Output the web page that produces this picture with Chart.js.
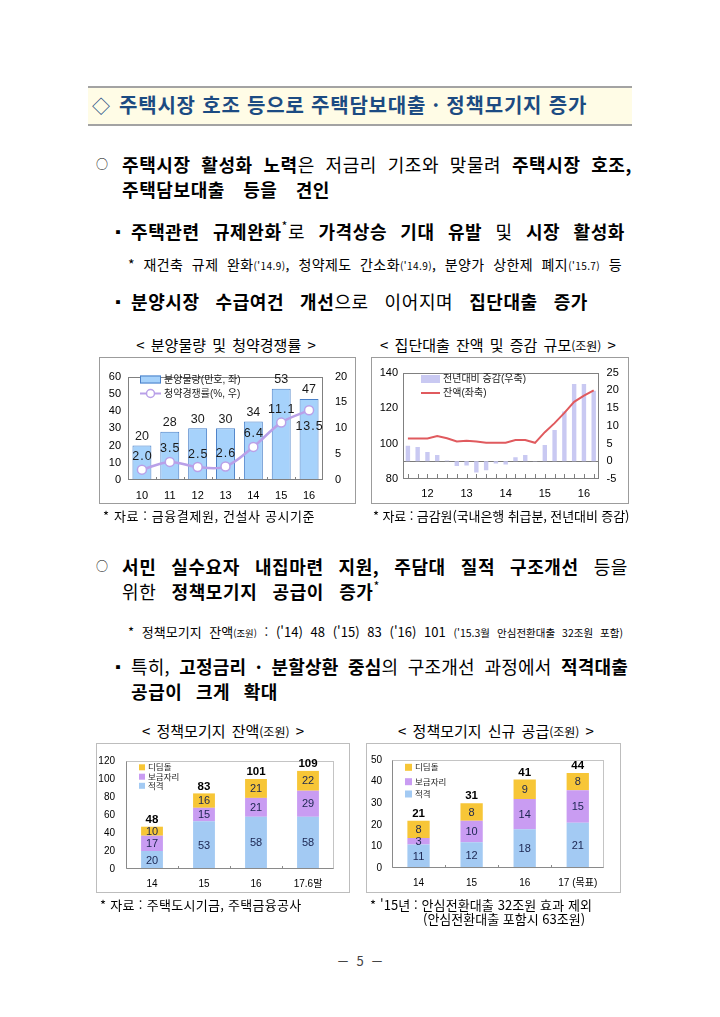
<!DOCTYPE html>
<html lang="ko">
<head>
<meta charset="utf-8">
<title>주택시장 호조 등으로 주택담보대출 · 정책모기지 증가</title>
<script src="https://cdn.jsdelivr.net/npm/chart.js@4.4.1/dist/chart.umd.min.js"></script>
<style>
  html, body { margin: 0; padding: 0; background: #fff; }
  body { width: 720px; height: 1017px; position: relative; overflow: hidden;
         font-family: 'Noto Sans CJK KR', 'Noto Sans', sans-serif; color: #000; }
  .abs { position: absolute; line-height: 1; }
  .jl { text-align: justify; text-align-last: justify; }
  .ls { letter-spacing: 0.6px; }
  .nw { white-space: nowrap; }
  b { font-weight: 700; }
  sup { font-size: 0.7em; vertical-align: 0.6em; line-height: 0; }
  .small { font-size: 0.72em; }
  .dot { font-size: 12px; }
  .box { position: absolute; outline: 1px solid #9c9c9c; }
  .box canvas { display: block; }
  .ttl { position: absolute; line-height: 1; font-size: 15px; word-spacing: 2px;
         white-space: nowrap; transform: translateX(-50%); }
  .ttl span { font-size: 12px; }
  .src { position: absolute; line-height: 1; font-size: 13px; white-space: nowrap; }
  .head { position: absolute; left: 88px; top: 86px; width: 544px; height: 36px;
          background: #fffce6; border-top: 2px solid #a3a3a3; border-bottom: 2px solid #a3a3a3; }
</style>
</head>
<body>

<div class="head"></div>
<div class="abs" style="left:92px; top:96px; font-size:18px; color:#1c4b82;">◇</div>
<div class="abs nw" style="left:119px; top:95px; font-size:20px; letter-spacing:0.8px; font-weight:700; color:#1c4b82;">주택시장 호조 등으로 주택담보대출 · 정책모기지 증가</div>

<div class="abs dot" style="left:96px; top:158px;">○</div>
<div class="abs jl ls" style="left:122px; top:155px; width:510px; font-size:18px;"><b>주택시장 활성화 노력</b>은 저금리 기조와 맞물려 <b>주택시장 호조,</b></div>
<div class="abs jl ls" style="left:122px; top:180px; width:208px; font-size:18px;"><b>주택담보대출 등을 견인</b></div>

<div class="abs" style="left:111px; top:224px; font-size:14px;">▪</div>
<div class="abs jl ls" style="left:131px; top:222px; width:494px; font-size:18px;"><b>주택관련 규제완화</b><sup>*</sup>로 <b>가격상승 기대 유발</b> 및 <b>시장 활성화</b></div>
<div class="abs jl" style="left:128px; top:257px; width:494px; font-size:14px; letter-spacing:0.4px;">* 재건축 규제 완화<span class="small">('14.9)</span>, 청약제도 간소화<span class="small">('14.9)</span>, 분양가 상한제 폐지<span class="small">('15.7)</span> 등</div>

<div class="abs" style="left:111px; top:294px; font-size:14px;">▪</div>
<div class="abs jl ls" style="left:131px; top:292px; width:457px; font-size:18px;"><b>분양시장 수급여건 개선</b>으로 이어지며 <b>집단대출 증가</b></div>

<div class="ttl" style="left:226px; top:337px;">&lt; 분양물량 및 청약경쟁률 &gt;</div>
<div class="ttl" style="left:498px; top:337px;">&lt; 집단대출 잔액 및 증감 규모<span>(조원)</span> &gt;</div>

<div class="box" style="left:100px; top:358px; width:255px; height:145px;"><canvas id="saleChart"></canvas></div>
<div class="box" style="left:372px; top:358px; width:256px; height:145px;"><canvas id="groupChart"></canvas></div>

<div class="src" style="left:103px; top:509px; letter-spacing:0.6px;">* 자료 : 금융결제원, 건설사 공시기준</div>
<div class="src" style="left:373px; top:509px; letter-spacing:-0.1px;">* 자료 : 금감원(국내은행 취급분, 전년대비 증감)</div>

<div class="abs dot" style="left:96px; top:560px;">○</div>
<div class="abs jl ls" style="left:122px; top:557px; width:506px; font-size:18px;"><b>서민 실수요자 내집마련 지원, 주담대 질적 구조개선</b> 등을</div>
<div class="abs jl ls" style="left:122px; top:582px; width:258px; font-size:18px;">위한 <b>정책모기지 공급이 증가</b><sup>*</sup></div>
<div class="abs jl" style="left:128px; top:625px; width:495px; font-size:13px;">* 정책모기지 잔액<span class="small">(조원)</span> : ('14) 48 ('15) 83 ('16) 101 <span style="font-size:10.5px;">('15.3월 안심전환대출 32조원 포함)</span></div>

<div class="abs" style="left:111px; top:659px; font-size:14px;">▪</div>
<div class="abs jl" style="left:131px; top:657px; width:497px; font-size:18px; letter-spacing:0.2px;">특히, <b>고정금리 · 분할상환 중심</b>의 구조개선 과정에서 <b>적격대출</b></div>
<div class="abs jl ls" style="left:131px; top:682px; width:147px; font-size:18px;"><b>공급이 크게 확대</b></div>

<div class="ttl" style="left:223px; top:723px;">&lt; 정책모기지 잔액<span>(조원)</span> &gt;</div>
<div class="ttl" style="left:496px; top:723px;">&lt; 정책모기지 신규 공급<span>(조원)</span> &gt;</div>

<div class="box" style="left:97px; top:744px; width:252px; height:148px; outline-color:#bdbdbd;"><canvas id="stockChart"></canvas></div>
<div class="box" style="left:367px; top:744px; width:253px; height:148px; outline-color:#bdbdbd;"><canvas id="newChart"></canvas></div>

<div class="src" style="left:100px; top:898px; letter-spacing:0.3px;">* 자료 : 주택도시기금, 주택금융공사</div>
<div class="src" style="left:370px; top:898px; letter-spacing:0.1px;">* '15년 : 안심전환대출 32조원 효과 제외</div>
<div class="src" style="left:423px; top:912px;">(안심전환대출 포함시 63조원)</div>

<div class="abs nw" style="left:360px; top:954px; font-size:13px; word-spacing:4px; color:#444; transform:translateX(-50%);">－ 5 －</div>

<script>
// 분양물량 및 청약경쟁률
const saleYears = ['10', '11', '12', '13', '14', '15', '16'];
const saleSupply = [20, 28, 30, 30, 34, 53, 47];                 // 만호, 좌축
const saleCompetition = [2.0, 3.5, 2.5, 2.6, 6.4, 11.1, 13.5];   // %, 우축

// 집단대출 잔액 및 증감 규모 (분기, 조원)
const groupQuarters = ['', '', '12', '', '', '', '13', '', '', '', '14', '', '', '', '15', '', '', '', '16', ''];
const groupChange = [4.4, 4.0, 2.6, 1.8, 0.2, -1.3, -1.2, -3.2, -2.5, -0.6, -0.9, 1.1, 1.8, 0.1, 4.6, 8.8, 14.0, 21.8, 21.8, 19.9];
const groupBalance = [102.8, 102.8, 102.8, 104.2, 103.0, 101.2, 101.6, 101.2, 100.5, 100.5, 100.4, 102.0, 102.0, 100.4, 106.4, 111.5, 117.3, 123.5, 127.0, 130.0];

// 정책모기지 잔액 (조원)
const stockYears = ['14', '15', '16', '17.6말'];
const stockEligible = [20, 53, 58, 58];
const stockBogeum = [17, 15, 21, 29];
const stockDidim = [10, 16, 21, 22];
const stockTotal = [48, 83, 101, 109];

// 정책모기지 신규 공급 (조원)
const newYears = ['14', '15', '16', '17 (목표)'];
const newEligible = [11, 12, 18, 21];
const newBogeum = [3, 10, 14, 15];
const newDidim = [8, 8, 9, 8];
const newTotal = [21, 31, 41, 44];

const FONT = "'Liberation Sans', 'Noto Sans CJK KR', sans-serif";
const BLUE = '#a6d2fb', LAVENDER = '#b9a0e8', RED = '#e05a5e', PALE = '#c9c9f2';
const ELIG = '#a3caf3', BOGEUM = '#c99cf2', DIDIM = '#f7c637';

Chart.defaults.font.family = FONT;
Chart.defaults.color = '#000';
Chart.defaults.animation = false;
Chart.defaults.events = [];
Chart.defaults.plugins.legend.display = false;
Chart.defaults.plugins.tooltip.enabled = false;

const fixW = w => s => { s.width = w; };
const fixH = h => s => { s.height = h; };
const noGrid = { display: false, drawTicks: false };

// 플롯 영역 테두리 + 축선
function framePlugin(frameColor, axisColor) {
    return {
        id: 'frame',
        afterDatasetsDraw(chart) {
            const { ctx, chartArea: a } = chart;
            const l = Math.round(a.left) + 0.5, r = Math.round(a.right) - 0.5;
            const t = Math.round(a.top) + 0.5, b = Math.round(a.bottom) - 0.5;
            ctx.save();
            ctx.lineWidth = 1;
            ctx.strokeStyle = frameColor;
            ctx.strokeRect(l, t, r - l, b - t);
            ctx.strokeStyle = axisColor;
            ctx.beginPath();
            ctx.moveTo(l, t); ctx.lineTo(l, b); ctx.lineTo(r, b);
            ctx.stroke();
            ctx.restore();
        }
    };
}

// 아래축 안쪽 작은 눈금
function innerTicks(at, len, color) {
    return {
        id: 'innerTicks',
        afterDatasetsDraw(chart) {
            const xs = chart.scales.x, ctx = chart.ctx, b = Math.round(chart.chartArea.bottom);
            ctx.save();
            ctx.strokeStyle = color;
            ctx.lineWidth = 1;
            ctx.beginPath();
            for (let i = 0; i < chart.data.labels.length; i++) {
                let x = xs.getPixelForValue(i);
                if (at === 'between') {
                    if (i === 0) continue;
                    x = (x + xs.getPixelForValue(i - 1)) / 2;
                }
                x = Math.round(x) + 0.5;
                ctx.moveTo(x, b);
                ctx.lineTo(x, b - len);
            }
            ctx.stroke();
            ctx.restore();
        }
    };
}

// 차트 안쪽 범례
function legendPlugin(items, fontSize) {
    return {
        id: 'boxLegend',
        afterDraw(chart) {
            const ctx = chart.ctx;
            ctx.save();
            ctx.font = fontSize + 'px ' + FONT;
            ctx.textBaseline = 'middle';
            ctx.fillStyle = '#222';
            items.forEach(it => {
                if (it.kind === 'box') {
                    ctx.fillStyle = it.fill;
                    ctx.fillRect(it.x, it.y - it.h / 2, it.w, it.h);
                    if (it.stroke) {
                        ctx.strokeStyle = it.stroke;
                        ctx.lineWidth = 1;
                        ctx.strokeRect(it.x + 0.5, it.y - it.h / 2 + 0.5, it.w - 1, it.h - 1);
                    }
                } else {
                    ctx.strokeStyle = it.stroke;
                    ctx.lineWidth = it.lw || 2;
                    ctx.beginPath();
                    ctx.moveTo(it.x, it.y); ctx.lineTo(it.x + it.w, it.y);
                    ctx.stroke();
                    if (it.point) {
                        ctx.fillStyle = '#fff';
                        ctx.lineWidth = 1.5;
                        ctx.beginPath();
                        ctx.arc(it.x + it.w / 2, it.y, 4, 0, Math.PI * 2);
                        ctx.fill(); ctx.stroke();
                    }
                }
                ctx.fillStyle = '#222';
                ctx.fillText(it.text, it.tx, it.y + 0.5);
            });
            ctx.restore();
        }
    };
}

// 누적막대 값 + 합계
function stackLabels(totals) {
    return {
        id: 'stackLabels',
        afterDatasetsDraw(chart) {
            const ctx = chart.ctx;
            ctx.save();
            ctx.textAlign = 'center';
            ctx.textBaseline = 'middle';
            ctx.font = '11px ' + FONT;
            ctx.fillStyle = '#1b2550';
            chart.data.datasets.forEach((ds, di) => {
                chart.getDatasetMeta(di).data.forEach((el, i) => {
                    const p = el.getProps(['x', 'y', 'base'], true);
                    ctx.fillText(String(ds.data[i]), p.x, (p.y + p.base) / 2 + 0.5);
                });
            });
            const top = chart.getDatasetMeta(chart.data.datasets.length - 1).data;
            ctx.font = 'bold 11.5px ' + FONT;
            ctx.fillStyle = '#000';
            top.forEach((el, i) => {
                const p = el.getProps(['x', 'y'], true);
                ctx.fillText(String(totals[i]), p.x, p.y - 7);
            });
            ctx.restore();
        }
    };
}

const saleLabels = {
    id: 'saleLabels',
    afterDatasetsDraw(chart) {
        const ctx = chart.ctx;
        const bars = chart.getDatasetMeta(1).data, pts = chart.getDatasetMeta(0).data;
        ctx.save();
        ctx.textAlign = 'center';
        ctx.textBaseline = 'middle';
        ctx.fillStyle = '#1a1a1a';
        ctx.font = '12.5px ' + FONT;
        bars.forEach((b, i) => ctx.fillText(String(saleSupply[i]), b.x, b.y - 9));
        ctx.font = '12.5px ' + FONT;
        ctx.letterSpacing = '1px';
        pts.forEach((p, i) => {
            const dy = i === pts.length - 1 ? 16 : -13;
            ctx.fillText(saleCompetition[i].toFixed(1), p.x + 0.5, p.y + dy);
        });
        ctx.restore();
    }
};

// 분양물량 및 청약경쟁률
new Chart(document.getElementById('saleChart'), {
    type: 'bar',
    data: {
        labels: saleYears,
        datasets: [{
            type: 'line',
            label: '청약경쟁률(%, 우)',
            data: saleCompetition,
            yAxisID: 'y1',
            order: 0,
            borderColor: LAVENDER,
            borderWidth: 2.5,
            tension: 0.35,
            pointRadius: 4.5,
            pointBackgroundColor: '#fff',
            pointBorderColor: LAVENDER,
            pointBorderWidth: 1.5
        }, {
            label: '분양물량(만호, 좌)',
            data: saleSupply,
            yAxisID: 'y',
            order: 1,
            backgroundColor: BLUE,
            borderColor: '#4a80c8',
            borderWidth: 1,
            barPercentage: 0.68,
            categoryPercentage: 1
        }]
    },
    options: {
        responsive: true,
        maintainAspectRatio: false,
        layout: { padding: { top: 8.5 } },
        scales: {
            x: { grid: noGrid, border: { display: false }, ticks: { padding: 9, font: { size: 11 } }, afterFit: fixH(23) },
            y: { min: 0, max: 60, grid: noGrid, border: { display: false }, ticks: { stepSize: 10, padding: 7, font: { size: 11 } }, afterFit: fixW(28) },
            y1: { position: 'right', min: 0, max: 20, grid: noGrid, border: { display: false }, ticks: { stepSize: 5, padding: 12, font: { size: 11 } }, afterFit: fixW(32) }
        }
    },
    plugins: [
        framePlugin('#808080', '#808080'),
        innerTicks('between', 3, '#808080'),
        saleLabels,
        legendPlugin([
            { kind: 'box', x: 40, y: 21.5, w: 21, h: 8, fill: BLUE, stroke: '#4a80c8', text: '분양물량(만호, 좌)', tx: 64 },
            { kind: 'line', x: 40, y: 35.5, w: 21, stroke: LAVENDER, lw: 2, point: true, text: '청약경쟁률(%, 우)', tx: 64 }
        ], 10)
    ]
});

// 0 기준선 (우축)
const zeroLine = {
    id: 'zeroLine',
    beforeDatasetsDraw(chart) {
        const { ctx, chartArea: a } = chart;
        const y = Math.round(chart.scales.y1.getPixelForValue(0)) + 0.5;
        ctx.save();
        ctx.strokeStyle = '#7a7a7a';
        ctx.lineWidth = 1;
        ctx.beginPath();
        ctx.moveTo(a.left, y); ctx.lineTo(a.right, y);
        ctx.stroke();
        ctx.restore();
    }
};

// 집단대출 잔액 및 증감 규모
new Chart(document.getElementById('groupChart'), {
    type: 'bar',
    data: {
        labels: groupQuarters,
        datasets: [{
            type: 'line',
            label: '잔액(좌축)',
            data: groupBalance,
            yAxisID: 'y',
            order: 0,
            borderColor: RED,
            borderWidth: 2,
            tension: 0,
            pointRadius: 0
        }, {
            label: '전년대비 증감(우축)',
            data: groupChange,
            yAxisID: 'y1',
            order: 1,
            backgroundColor: PALE,
            barPercentage: 0.45,
            categoryPercentage: 1
        }]
    },
    options: {
        responsive: true,
        maintainAspectRatio: false,
        layout: { padding: { top: 8 } },
        scales: {
            x: { grid: noGrid, border: { display: false }, ticks: { autoSkip: false, maxRotation: 0, padding: 8.5, font: { size: 11 } }, afterFit: fixH(24) },
            y: { min: 80, max: 140, grid: noGrid, border: { display: false }, ticks: { stepSize: 20, padding: 5, font: { size: 11 } }, afterFit: fixW(31) },
            y1: { position: 'right', min: -5, max: 25, grid: noGrid, border: { display: false }, ticks: { stepSize: 5, padding: 8, font: { size: 11 } }, afterFit: fixW(29.4) }
        }
    },
    plugins: [
        zeroLine,
        framePlugin('#808080', '#808080'),
        innerTicks('center', 5, '#808080'),
        legendPlugin([
            { kind: 'box', x: 49, y: 21, w: 19, h: 8, fill: PALE, text: '전년대비 증감(우축)', tx: 71 },
            { kind: 'line', x: 49, y: 35, w: 19, stroke: RED, lw: 2, text: '잔액(좌축)', tx: 71 }
        ], 10)
    ]
});

function stackedConfig(labels, eligible, bogeum, didim, totals, yMax, yStep, dims, legendItems) {
    return {
        type: 'bar',
        data: {
            labels: labels,
            datasets: [
                { label: '적격', data: eligible, backgroundColor: ELIG, barPercentage: 0.42, categoryPercentage: 1 },
                { label: '보금자리', data: bogeum, backgroundColor: BOGEUM, barPercentage: 0.42, categoryPercentage: 1 },
                { label: '디딤돌', data: didim, backgroundColor: DIDIM, barPercentage: 0.42, categoryPercentage: 1 }
            ]
        },
        options: {
            responsive: true,
            maintainAspectRatio: false,
            layout: { padding: { top: dims.top, right: dims.right } },
            scales: {
                x: { stacked: true, grid: noGrid, border: { display: false }, ticks: { padding: 9, font: { size: 10 } }, afterFit: fixH(dims.xh) },
                y: { stacked: true, min: 0, max: yMax, grid: noGrid, border: { display: false }, ticks: { stepSize: yStep, padding: dims.pad, font: { size: 10 } }, afterFit: fixW(dims.yw) }
            }
        },
        plugins: [
            framePlugin('#c4c4c4', '#8a8a8a'),
            innerTicks('between', 3, '#8a8a8a'),
            stackLabels(totals),
            legendPlugin(legendItems, 8.5)
        ]
    };
}

// 정책모기지 잔액
new Chart(document.getElementById('stockChart'), stackedConfig(
    stockYears, stockEligible, stockBogeum, stockDidim, stockTotal, 120, 20,
    { top: 12.5, right: 15, xh: 23, yw: 29, pad: 11 },
    [
        { kind: 'box', x: 42, y: 23.3, w: 6, h: 6, fill: DIDIM, text: '디딤돌', tx: 51 },
        { kind: 'box', x: 42, y: 32.7, w: 6, h: 6, fill: BOGEUM, text: '보금자리', tx: 51 },
        { kind: 'box', x: 42, y: 41.8, w: 6, h: 6, fill: ELIG, text: '적격', tx: 51 }
    ]
));

// 정책모기지 신규 공급
new Chart(document.getElementById('newChart'), stackedConfig(
    newYears, newEligible, newBogeum, newDidim, newTotal, 50, 10,
    { top: 11.7, right: 15.7, xh: 23.7, yw: 25, pad: 10 },
    [
        { kind: 'box', x: 38, y: 23.3, w: 7, h: 7, fill: DIDIM, text: '디딤돌', tx: 48 },
        { kind: 'box', x: 38, y: 37.7, w: 7, h: 7, fill: BOGEUM, text: '보금자리', tx: 48 },
        { kind: 'box', x: 38, y: 50, w: 7, h: 7, fill: ELIG, text: '적격', tx: 48 }
    ]
));
</script>
</body>
</html>
